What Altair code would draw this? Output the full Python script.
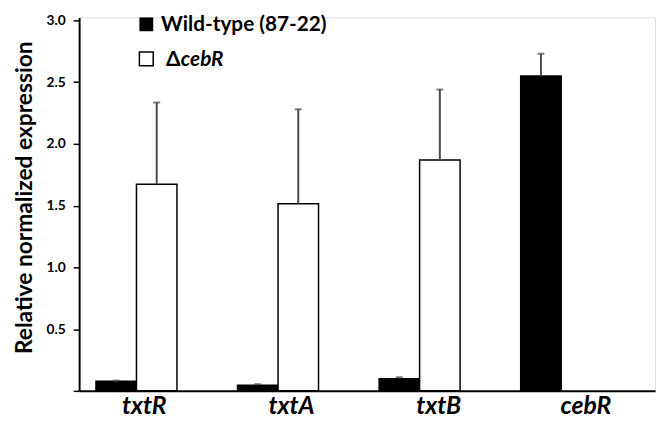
import altair as alt
import pandas as pd

genes = ["txtR", "txtA", "txtB", "cebR"]
series = ["Wild-type (87-22)", "ΔcebR"]
wt_vals = [0.077, 0.046, 0.098, 2.55]
wt_err = [0.006, 0.008, 0.012, 0.18]
ko_vals = [1.673, 1.516, 1.87, None]
ko_err = [0.662, 0.764, 0.57, None]

rows = []
for g, v, e in zip(genes, wt_vals, wt_err):
    rows.append({"gene": g, "series": series[0], "val": v, "top": v + e})
for g, v, e in zip(genes, ko_vals, ko_err):
    if v is not None:
        rows.append({"gene": g, "series": series[1], "val": v, "top": v + e})
df = pd.DataFrame(rows)

FONT = "Lato"
W, H = 583, 378

xscale = alt.Scale(domain=genes, paddingInner=0.428, paddingOuter=0.248, align=0.24)
xoff = alt.XOffset("series:N", scale=alt.Scale(domain=series, paddingInner=0, paddingOuter=0))
yscale = alt.Scale(domain=[0, 3.024], nice=False, zero=True)

yaxis = alt.Axis(
    values=[0, 0.5, 1.0, 1.5, 2.0, 2.5, 3.0],
    labelExpr="datum.value == 0 ? '' : format(datum.value, '.1f')",
    title="Relative normalized expression",
    titleFont=FONT, titleFontSize=23, titleFontWeight="bold", titleColor="black",
    titleAngle=270, titleX=-55, titleY=182, titleAlign="center", titleBaseline="middle",
    labelFont=FONT, labelFontSize=14, labelFontWeight="bold", labelColor="black",
    labelPadding=8, tickSize=6, tickColor="black", tickWidth=1.5,
    domainColor="black", domainWidth=2, grid=False,
)
xaxis = alt.Axis(labels=False, ticks=False, title=None, domainColor="black", domainWidth=2, grid=False)

base = alt.Chart(df)
bars = base.mark_bar(stroke="black", strokeWidth=1.5).encode(
    x=alt.X("gene:N", scale=xscale, axis=xaxis, sort=genes),
    xOffset=xoff,
    y=alt.Y("val:Q", scale=yscale, axis=yaxis),
    fill=alt.Fill("series:N", scale=alt.Scale(domain=series, range=["black", "white"]), legend=None),
)
rules = base.mark_rule(color="#4a4a4a", strokeWidth=2).encode(
    x=alt.X("gene:N", scale=xscale, sort=genes),
    xOffset=xoff,
    y=alt.Y("val:Q", scale=yscale),
    y2="top:Q",
)
caps = base.mark_tick(color="#4a4a4a", size=7, thickness=2, orient="horizontal").encode(
    x=alt.X("gene:N", scale=xscale, sort=genes),
    xOffset=xoff,
    y=alt.Y("top:Q", scale=yscale),
)

bar_layer = alt.layer(bars, rules, caps)

label_df = pd.DataFrame({"gene": genes})
labels = alt.Chart(label_df).mark_text(
    font=FONT, fontSize=25, fontWeight="bold", fontStyle="italic", color="black",
    baseline="alphabetic", align="center",
).encode(
    x=alt.X("gene:N", scale=alt.Scale(type="point", domain=genes, padding=0.456, align=0.485), axis=None, sort=genes),
    y=alt.value(401),
    text="gene:N",
)

one = pd.DataFrame({"k": [0]})
sq1 = alt.Chart(one).mark_square(size=196, color="black", opacity=1).encode(
    x=alt.value(68), y=alt.value(7))
sq2 = alt.Chart(one).mark_square(size=196, fill="white", stroke="black", strokeWidth=1.5, opacity=1).encode(
    x=alt.value(68), y=alt.value(42))
t1 = alt.Chart(one).mark_text(font=FONT, fontSize=21, fontWeight="bold", align="left", baseline="alphabetic", color="black").encode(
    x=alt.value(83), y=alt.value(14), text=alt.value(series[0]))
t2a = alt.Chart(one).mark_text(font=FONT, fontSize=21, fontWeight="bold", align="left", baseline="alphabetic", color="black").encode(
    x=alt.value(88), y=alt.value(49), text=alt.value("Δ"))
t2b = alt.Chart(one).mark_text(font=FONT, fontSize=21, fontWeight="bold", fontStyle="italic", align="left", baseline="alphabetic", color="black").encode(
    x=alt.value(103), y=alt.value(49), text=alt.value("cebR"))

chart = alt.layer(bar_layer, labels, sq1, sq2, t1, t2a, t2b).resolve_scale(x="independent").properties(
    width=W, height=H,
    autosize=alt.AutoSizeParams(type="none"),
    padding={"left": 72, "top": 7, "right": 3, "bottom": 29},
).configure_view(stroke=None).configure(background="white")

chart.save("out.html", embed_options={"renderer": "svg", "actions": False})
